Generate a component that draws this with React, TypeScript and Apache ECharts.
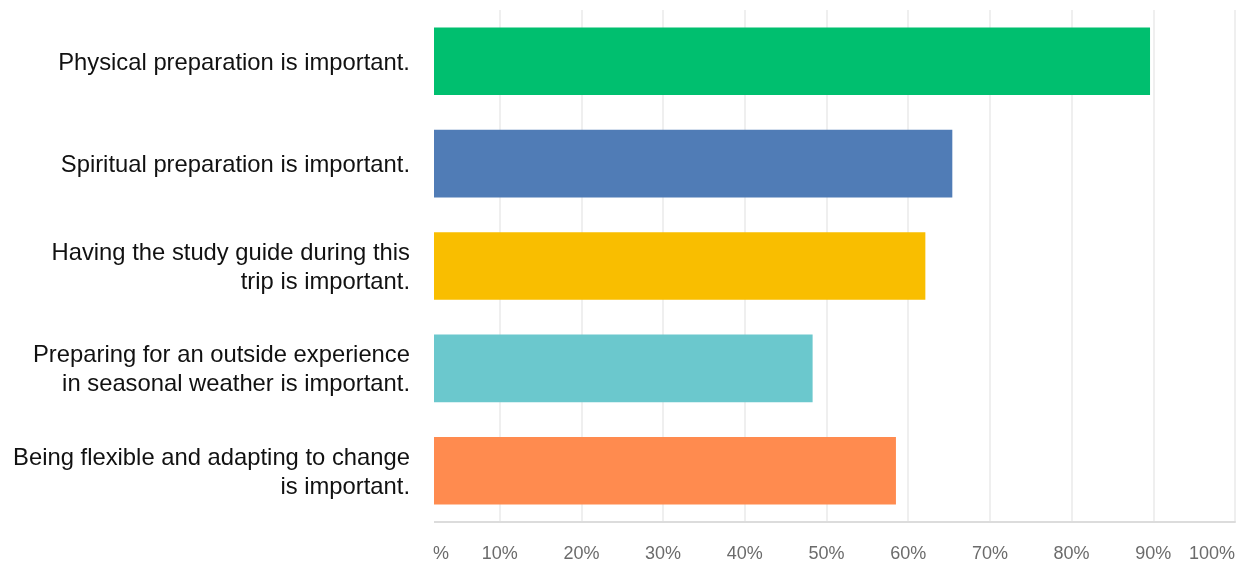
import React, { useEffect, useRef } from "react";
import * as echarts from "echarts";

const categories = [
  "Physical preparation is important.",
  "Spiritual preparation is important.",
  "Having the study guide during this\ntrip is important.",
  "Preparing for an outside experience\nin seasonal weather is important.",
  "Being flexible and adapting to change\nis important.",
];
const values = [89.6, 65.4, 62.1, 48.3, 58.5];
const colors = ["#00BF6F", "#507CB6", "#F9BE00", "#6BC8CD", "#FF8B4F"];

export default function App() {
  const ref = useRef<HTMLDivElement>(null);
  useEffect(() => {
    if (!ref.current) return;
    const chart = echarts.init(ref.current, undefined, { renderer: "svg" });
    chart.setOption({
      animation: false,
      grid: { left: 418, right: 4, top: 10, bottom: 42, containLabel: false },
      xAxis: {
        type: "value",
        min: 0,
        max: 100,
        interval: 10,
        axisLine: { show: true, lineStyle: { color: "#dcdcdc", width: 2 } },
        axisTick: { show: false },
        splitLine: { show: true, lineStyle: { color: "#efefef", width: 2 } },
        axisLabel: {
          showMinLabel: false,
          alignMaxLabel: "right",
          formatter: (v: number) => v + "%",
          color: "#6b6b6b",
          fontSize: 18,
          fontFamily: "Liberation Sans, Arial, sans-serif",
          margin: 22,
        },
      },
      yAxis: {
        type: "category",
        inverse: true,
        data: categories,
        axisLine: { show: false },
        axisTick: { show: false },
        splitLine: { show: false },
        axisLabel: {
          color: "#111111",
          fontSize: 23.8,
          lineHeight: 29,
          fontFamily: "Liberation Sans, Arial, sans-serif",
          margin: 8,
          align: "right",
        },
      },
      series: [
        {
          type: "bar",
          barWidth: "66%",
          data: values.map((v, i) => ({ value: v, itemStyle: { color: colors[i] } })),
        },
      ],
      graphic: [
        {
          type: "rect",
          z: 100,
          shape: { x: 414, y: 0, width: 20, height: 525 },
          style: { fill: "#ffffff" },
        },
        {
          type: "text",
          z: 100,
          x: 433,
          y: 553,
          style: {
            text: "%",
            fill: "#6b6b6b",
            fontSize: 18,
            fontFamily: "Liberation Sans, Arial, sans-serif",
            verticalAlign: "middle",
          },
        },
      ],
    });
    return () => chart.dispose();
  }, []);
  return (
    <div
      ref={ref}
      style={{ position: "fixed", left: 0, top: 0, width: 1239, height: 564 }}
    />
  );
}
